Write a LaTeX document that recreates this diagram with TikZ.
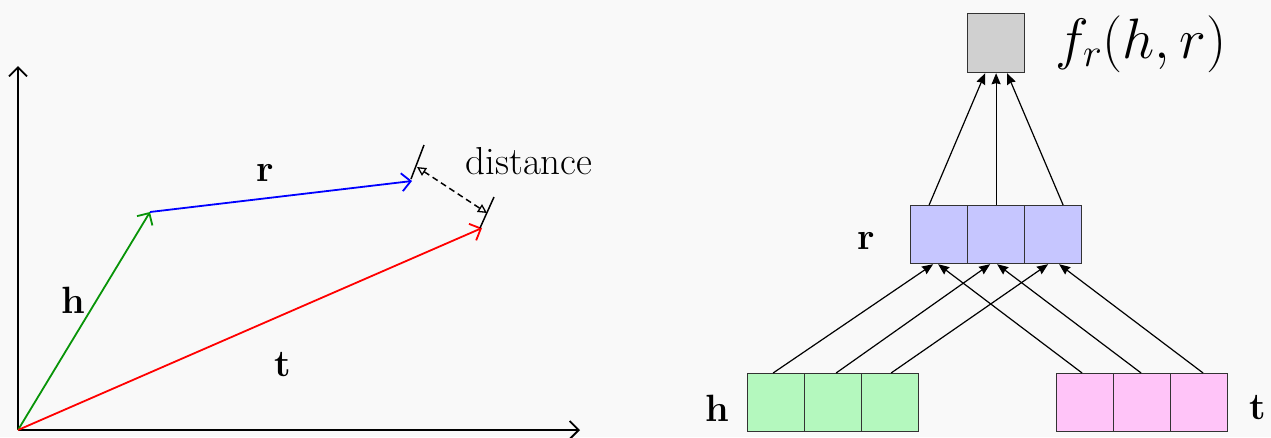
\RequirePackage{fix-cm}
\documentclass[tikz,border=0pt]{standalone}
\usetikzlibrary{arrows.meta,calc}
\definecolor{bgc}{HTML}{F9F9F9}
\definecolor{grayc}{HTML}{D0D0D0}
\definecolor{bluec}{HTML}{C6C6FF}
\definecolor{greenc}{HTML}{B4F8BE}
\definecolor{pinkc}{HTML}{FFC4F8}
\definecolor{vgreen}{HTML}{089408}
\begin{document}
\begin{tikzpicture}[x=1pt,y=-1pt,
  lbl/.style={font=\fontsize{38}{42}\selectfont, inner sep=0},
  cell/.style={draw=black!80, line width=1.2pt, minimum width=57pt, minimum height=58pt, inner sep=0, anchor=north west},
  vec/.style={line width=1.8pt, -{Straight Barb[length=9pt,width=18pt,line width=1.8pt]}},
  axis/.style={line width=1.8pt, -{Straight Barb[length=9pt,width=18pt,line width=1.8pt]}},
  nn/.style={line width=1.2pt, -{Stealth[length=11pt,width=9pt,inset=1pt]}},
  tick/.style={line width=1.5pt},
  dist/.style={line width=1.5pt, dash pattern=on 6pt off 4pt, {Triangle[open,length=9pt,width=9pt,line width=1.3pt]}-{Triangle[open,length=9pt,width=9pt,line width=1.3pt]}}]
\fill[bgc] (0,0) rectangle (1271,437);
\useasboundingbox (0,0) rectangle (1271,437);
% left: vector space
\coordinate (O) at (18,430);
\coordinate (Y) at (18,66);
\coordinate (X) at (580,430);
\coordinate (H) at (150,212);
\coordinate (R) at (412,181);
\coordinate (T) at (482,228);
\coordinate (b1) at (411,179);
\coordinate (b2) at (424,145);
\coordinate (c1) at (480,228);
\coordinate (c2) at (494,197);
\coordinate (d1) at (417,167);
\coordinate (d2) at (487,213);
\draw[axis] (O) -- (Y);
\draw[axis] (O) -- (X);
\draw[vec, vgreen] (O) -- (H);
\draw[vec, blue] (H) -- (R);
\draw[vec, red] (O) -- (T);
\draw[tick] (b1) -- (b2);
\draw[tick] (c1) -- (c2);
\draw[dist] (d1) -- (d2);
\node[lbl, font=\fontsize{39}{43}\selectfont] (ldist) at (529,161) {distance};
\node[lbl] (lr) at (265,173) {\textbf{r}};
\node[lbl] (lh) at (73,300) {\textbf{h}};
\node[lbl] (lt) at (283,365) {\textbf{t}};
% right: network
\node[cell, fill=grayc, minimum height=59pt] (g) at (967,13) {};
\node[cell, fill=bluec] (r1) at (910,205) {};
\node[cell, fill=bluec] (r2) at (967,205) {};
\node[cell, fill=bluec] (r3) at (1024,205) {};
\node[cell, fill=greenc] (h1) at (747,373) {};
\node[cell, fill=greenc] (h2) at (804,373) {};
\node[cell, fill=greenc] (h3) at (861,373) {};
\node[cell, fill=pinkc] (t1) at (1056,373) {};
\node[cell, fill=pinkc] (t2) at (1113,373) {};
\node[cell, fill=pinkc] (t3) at (1170,373) {};
\node[lbl, font=\fontsize{57}{62}\selectfont] (lf) at (1141,44) {$f_r(h,r)$};
\node[lbl] (lr2) at (866,241) {\textbf{r}};
\node[lbl] (lh2) at (717,408) {\textbf{h}};
\node[lbl] (lt2) at (1258,408) {\textbf{t}};
\draw[nn] ($(r1.north)+(-10,0)$) -- ($(g.south)+(-11,0)$);
\draw[nn] (r2.north) -- (g.south);
\draw[nn] ($(r3.north)+(10,0)$) -- ($(g.south)+(11,0)$);
\draw[nn] ($(h1.north)+(-3,0)$) -- ($(r1.south)+(-6,0)$);
\draw[nn] ($(h2.north)+(3,0)$) -- ($(r2.south)+(-6,0)$);
\draw[nn] ($(h3.north)+(1,0)$) -- ($(r3.south)+(-5,0)$);
\draw[nn] ($(t1.north)+(-3,0)$) -- ($(r1.south)+(-1,0)$);
\draw[nn] ($(t2.north)+(-1,0)$) -- ($(r2.south)+(1,0)$);
\draw[nn] ($(t3.north)+(4,0)$) -- ($(r3.south)+(6,0)$);
\end{tikzpicture}
\end{document}
